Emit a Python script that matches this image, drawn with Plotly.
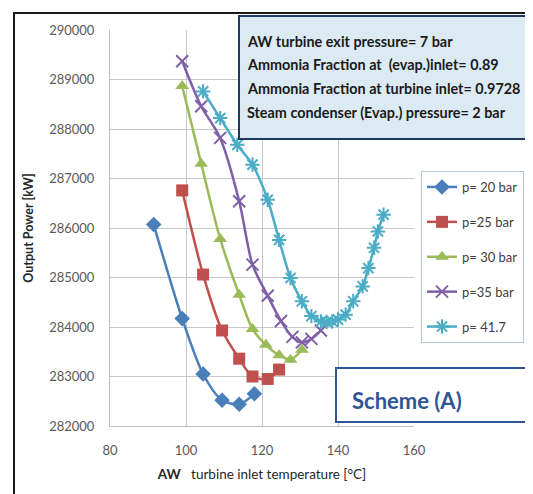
import plotly.graph_objects as go

# ---------------- data ----------------
temp_20 = [91.5, 99, 104.5, 109.5, 114, 118]
power_20 = [286070, 284170, 283050, 282520, 282440, 282650]

temp_25 = [99, 104.5, 109.5, 114, 117.5, 121.5, 124.5]
power_25 = [286760, 285060, 283930, 283360, 283000, 282950, 283140]

temp_30 = [99, 104, 109, 114, 117.5, 121, 124.5, 127.5, 130.5]
power_30 = [288870, 287300, 285780, 284650, 283960, 283640, 283430, 283340, 283540]

temp_35 = [99, 104, 109, 114, 117.5, 121.5, 125, 128, 130.5, 133, 135.5]
power_35 = [289370, 288460, 287820, 286540, 285260, 284630, 284120, 283800, 283690, 283760, 283930]

temp_41 = [104.5, 109, 113.5, 117.5, 121.5, 124.5, 127.5, 130.5, 133, 135.5, 137, 138.5,
           140, 142, 144, 146.5, 148, 149.5, 150.5, 152]
power_41 = [288760, 288220, 287680, 287280, 286570, 285760, 284990, 284520, 284220, 284110,
            284100, 284110, 284150, 284250, 284520, 284820, 285190, 285600, 285930, 286270]

series_names = ["p= 20 bar", "p=25 bar", "p= 30 bar", "p=35 bar", "p= 41.7"]
x_ticks = [80, 100, 120, 140, 160]
y_ticks = [282000, 283000, 284000, 285000, 286000, 287000, 288000, 289000, 290000]

info_lines = [
    "AW turbine exit pressure= 7 bar",
    "Ammonia Fraction at  (evap.)inlet= 0.89",
    "Ammonia Fraction at turbine inlet= 0.9728",
    "Steam condenser (Evap.) pressure= 2 bar",
]
scheme_label = "Scheme (A)"

# ---------------- layout geometry ----------------
W, H = 533, 494
ML, MR, MT, MB = 102, 127, 22, 76
PW, PH = W - ML - MR, H - MT - MB


def px(x):
    return (x - ML) / PW


def py(y):
    return (H - MB - y) / PH


colors = ["#4A7EBB", "#C0504D", "#9BBB59", "#7F5FA8", "#4BACC6"]
symbols = ["diamond", "square", "triangle-up", "x-thin-open", "asterisk-open"]
sizes = [12, 12, 12, 12, 12]
data = [(temp_20, power_20), (temp_25, power_25), (temp_30, power_30),
        (temp_35, power_35), (temp_41, power_41)]

fig = go.Figure()
for i, (xs, ys) in enumerate(data):
    fig.add_trace(go.Scatter(
        x=xs, y=ys, name=series_names[i], legendgroup=f"g{i}",
        mode="lines+markers",
        line=dict(color=colors[i], width=2.5, shape="spline", smoothing=0.8),
        marker=dict(symbol=symbols[i], size=sizes[i], color=colors[i],
                    line=dict(color=colors[i], width=2 if i >= 3 else 0)),
    ))

font_fam = "Lato, 'Open Sans', sans-serif"

fig.update_layout(
    width=W, height=H,
    margin=dict(l=ML, r=MR, t=MT, b=MB),
    paper_bgcolor="white", plot_bgcolor="white",
    font=dict(family=font_fam, color="#404040"),
    showlegend=True,
    legend=dict(
        x=px(413), y=py(163), xanchor="left", yanchor="top",
        bordercolor="#B4C6DC", borderwidth=1, bgcolor="white",
        font=dict(size=13, color="#404040"),
        tracegroupgap=15, itemwidth=30,
    ),
    xaxis=dict(
        range=[80, 160], tickvals=x_ticks, showgrid=True, gridcolor="#C8C8C8",
        gridwidth=1, zeroline=False, showline=True, linecolor="#BFBFBF",
        tickfont=dict(size=13, color="#595959"), ticks="", ticklabelstandoff=12,
        title=dict(text="<b>AW</b>   turbine inlet temperature [°C]",
                   font=dict(size=13.5, color="#262626"), standoff=12),
    ),
    yaxis=dict(
        range=[282000, 290000], tickvals=y_ticks, showgrid=True, gridcolor="#C8C8C8",
        gridwidth=1, zeroline=False, showline=True, linecolor="#BFBFBF",
        tickfont=dict(size=13, color="#595959"), ticks="", ticklabelstandoff=12,
        tickformat="d",
        title=dict(text="<b>Output Power [kW]</b>",
                   font=dict(size=12.5, color="#262626"), standoff=12),
    ),
)

shapes = [
    # outer frame
    dict(type="rect", xref="paper", yref="paper", x0=px(6), x1=px(522), y0=py(488), y1=py(5),
         line=dict(color="#1A1A1A", width=2), fillcolor="rgba(0,0,0,0)", layer="above"),
    # info box
    dict(type="rect", xref="paper", yref="paper", x0=px(231), x1=px(521), y0=py(131), y1=py(8),
         line=dict(color="#1F3864", width=2), fillcolor="#DCEAF4", layer="above"),
    # scheme box
    dict(type="rect", xref="paper", yref="paper", x0=px(328), x1=px(540), y0=py(414), y1=py(360),
         line=dict(color="#2F5597", width=2), fillcolor="white", layer="above"),
]
fig.update_layout(shapes=shapes)

annotations = []
for k, line in enumerate(info_lines):
    annotations.append(dict(
        xref="paper", yref="paper", x=px(237), y=py(33 + k * 23.7),
        xanchor="left", yanchor="middle", showarrow=False, text=f"<b>{line}</b>",
        font=dict(size=14.4, color="#1A1A1A", family="Lato, sans-serif"),
    ))
annotations.append(dict(
    xref="paper", yref="paper", x=px(342), y=py(392), xanchor="left", yanchor="middle",
    showarrow=False, text=f"<b>{scheme_label}</b>",
    font=dict(size=22, color="#2F5597", family="Lato, sans-serif"),
))
fig.update_layout(annotations=annotations)

fig.write_html("out.html")
